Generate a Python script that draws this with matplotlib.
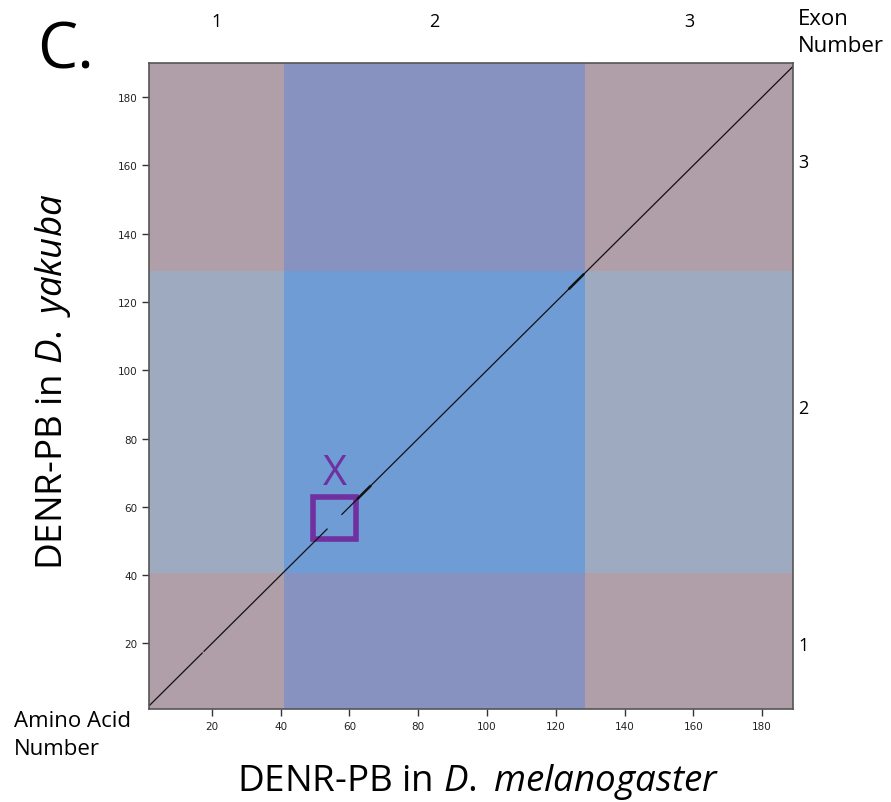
import matplotlib.pyplot as plt
import matplotlib.transforms as mtransforms
from matplotlib.patches import Rectangle

plt.rcParams["mathtext.fontset"] = "custom"
plt.rcParams["mathtext.rm"] = "Open Sans"
plt.rcParams["mathtext.it"] = "Open Sans:italic"

# exon boundaries (amino acid positions)
x_exons = [1.7, 41, 128.5, 189]
y_exons = [0.8, 40.5, 129, 190]
exon_labels = ["1", "2", "3"]
right_label_pos = [19.5, 89, 161]

# block colours: [row exon][col exon]
colors = [
    ["#b09ea8", "#8792c0", "#b09ea8"],
    ["#9eaac0", "#6f9cd4", "#9eaac0"],
    ["#b09ea8", "#8792c0", "#b09ea8"],
]

# diagonal match segments (start, end)
segments = [(1.7, 17.2), (17.7, 53.5), (57.8, 189)]
thick_segments = [(62.5, 66.0), (124.0, 128.0)]

# highlighted box
box_x = [49.4, 62.0]
box_y = [50.5, 62.8]

ticks = [20, 40, 60, 80, 100, 120, 140, 160, 180]

fig = plt.figure(figsize=(8.91, 8.03), dpi=100)
ax = fig.add_axes([0.1672, 0.1158, 0.7228, 0.8045])

for i in range(3):
    for j in range(3):
        ax.add_patch(Rectangle((x_exons[j], y_exons[i]),
                               x_exons[j + 1] - x_exons[j],
                               y_exons[i + 1] - y_exons[i],
                               facecolor=colors[i][j], edgecolor="none"))

for a, b in segments:
    ax.plot([a, b], [a, b], color="#111111", lw=0.9)
for a, b in thick_segments:
    ax.plot([a, b], [a, b], color="#111111", lw=1.8)

ax.add_patch(Rectangle((box_x[0], box_y[0]), box_x[1] - box_x[0],
                       box_y[1] - box_y[0], facecolor="none",
                       edgecolor="#7030a0", lw=4))
ax.text((box_x[0] + box_x[1]) / 2, box_y[1] + 1.0, "X", color="#7030a0",
        fontsize=30, ha="center", va="bottom", family="Open Sans")

ax.set_xlim(x_exons[0], x_exons[-1])
ax.set_ylim(y_exons[0], y_exons[-1])
ax.set_xticks(ticks)
ax.set_yticks(ticks)
ax.tick_params(direction="out", length=5, width=1, color="#333333",
               labelsize=7.5, labelcolor="#222222")
for s in ax.spines.values():
    s.set_color("#555555")
    s.set_linewidth(1.2)

# exon numbers on top and right
top_tr = mtransforms.blended_transform_factory(ax.transData, fig.transFigure)
for k in range(3):
    xm = (x_exons[k] + x_exons[k + 1]) / 2
    ax.text(xm, 0.9726, exon_labels[k], transform=top_tr,
            fontsize=13, ha="center", va="center", family="Open Sans")
for k in range(3):
    ax.text(1.008, right_label_pos[k], exon_labels[k],
            transform=ax.get_yaxis_transform(),
            fontsize=13, ha="left", va="center", family="Open Sans")

fig.text(0.895, 0.989, "Exon\nNumber", fontsize=16, ha="left", va="top",
         family="Open Sans", linespacing=1.4)
fig.text(0.016, 0.1146, "Amino Acid\nNumber", fontsize=16, ha="left", va="top",
         family="Open Sans", linespacing=1.45)
fig.text(0.042, 0.976, "C.", fontsize=46, ha="left", va="top", family="Open Sans")

fig.text(0.537, 0.026, "DENR-PB in $\\mathit{D.}$ $\\mathit{melanogaster}$",
         fontsize=26.5, ha="center", va="center", family="Open Sans")
fig.text(0.06, 0.524, "DENR-PB in $\\mathit{D.}$ $\\mathit{yakuba}$", fontsize=26.5,
         ha="center", va="center", rotation=90, family="Open Sans")

fig.savefig("out.png", dpi=100)
